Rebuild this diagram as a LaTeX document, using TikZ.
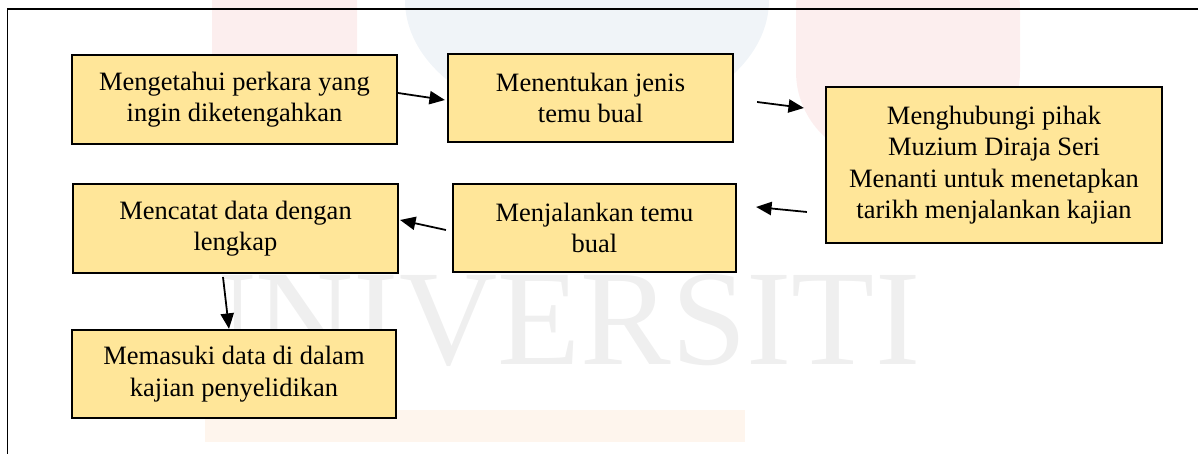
\documentclass[tikz,border=0pt]{standalone}
\usepackage{fontspec}
\setmainfont{Liberation Serif}
\usetikzlibrary{positioning}
\usetikzlibrary{arrows.meta}

\definecolor{kuning}{HTML}{FFE699}
\definecolor{tera}{HTML}{EFEFEF}
\definecolor{teraBiru}{HTML}{F0F4F8}
\definecolor{teraMerah}{HTML}{FCEEEE}
\definecolor{teraJingga}{HTML}{FEF5ED}

\tikzset{
  kotak/.style={draw=black, line width=1pt, fill=kuning, align=center,
    inner sep=2pt, font=\fontsize{12}{14.3}\selectfont},
  anak/.style={-{Triangle[length=7pt,width=6pt]}, line width=0.8pt},
}

\begin{document}
\begin{tikzpicture}[x=0.453pt,y=-0.453pt]
\useasboundingbox (0,0) rectangle (1198,454);
% watermark behind
\fill[teraBiru] (587,0) ellipse [x radius=182, y radius=125];
\fill[teraMerah, rounded corners=30pt] (212,-80) rectangle (357,145);
\fill[teraMerah, rounded corners=40pt] (796,-80) rectangle (1020,160);
\fill[teraJingga] (205,410) rectangle (745,442);
\begin{scope}
\clip (205,0) rectangle (1198,454);
\node[anchor=base west, inner sep=0, text=tera, font=\fontsize{61.6}{62}\selectfont] (tera) at (157,365) {UNIVERSITI};
\end{scope}
% frame
\draw[line width=0.9pt] (7.5,454) |- (1198,9.5);
% langkah
\node[kotak, minimum width=147.2pt, minimum height=40.3pt] (k1) at (234.5,99.5) {Mengetahui perkara yang\\ingin diketengahkan};
\node[kotak, minimum width=129.1pt, minimum height=39.9pt] (k2) at (590.5,98) {Menentukan jenis\\temu bual};
\node[kotak, minimum width=152.2pt, minimum height=70.7pt] (k3) at (994,165) {Menghubungi pihak\\Muzium Diraja Seri\\Menanti untuk menetapkan\\tarikh menjalankan kajian};
\node[kotak, minimum width=128.2pt, minimum height=39.9pt] (k4) at (594.5,228) {Menjalankan temu\\bual};
\node[kotak, minimum width=147.2pt, minimum height=40.3pt] (k5) at (235.5,228.5) {Mencatat data dengan\\lengkap};
\node[kotak, minimum width=146.8pt, minimum height=39.9pt] (k6) at (234,374) {Memasuki data di dalam\\kajian penyelidikan};
% anak panah
\draw[anak] ([shift={(0,-6.5)}]k1.east) -- ([shift={(-2,2)}]k2.west);
\draw[anak] ([shift={(23,4)}]k2.east) -- ([shift={(-21,-57)}]k3.west);
\draw[anak] ([shift={(-18,47)}]k3.west) -- ([shift={(19,-21)}]k4.east);
\draw[anak] ([shift={(-6,2)}]k4.west) -- ([shift={(1,-8.5)}]k5.east);
\draw[anak] ([shift={(-12.5,3)}]k5.south) -- ([shift={(-5,0)}]k6.north);
\end{tikzpicture}
\end{document}
